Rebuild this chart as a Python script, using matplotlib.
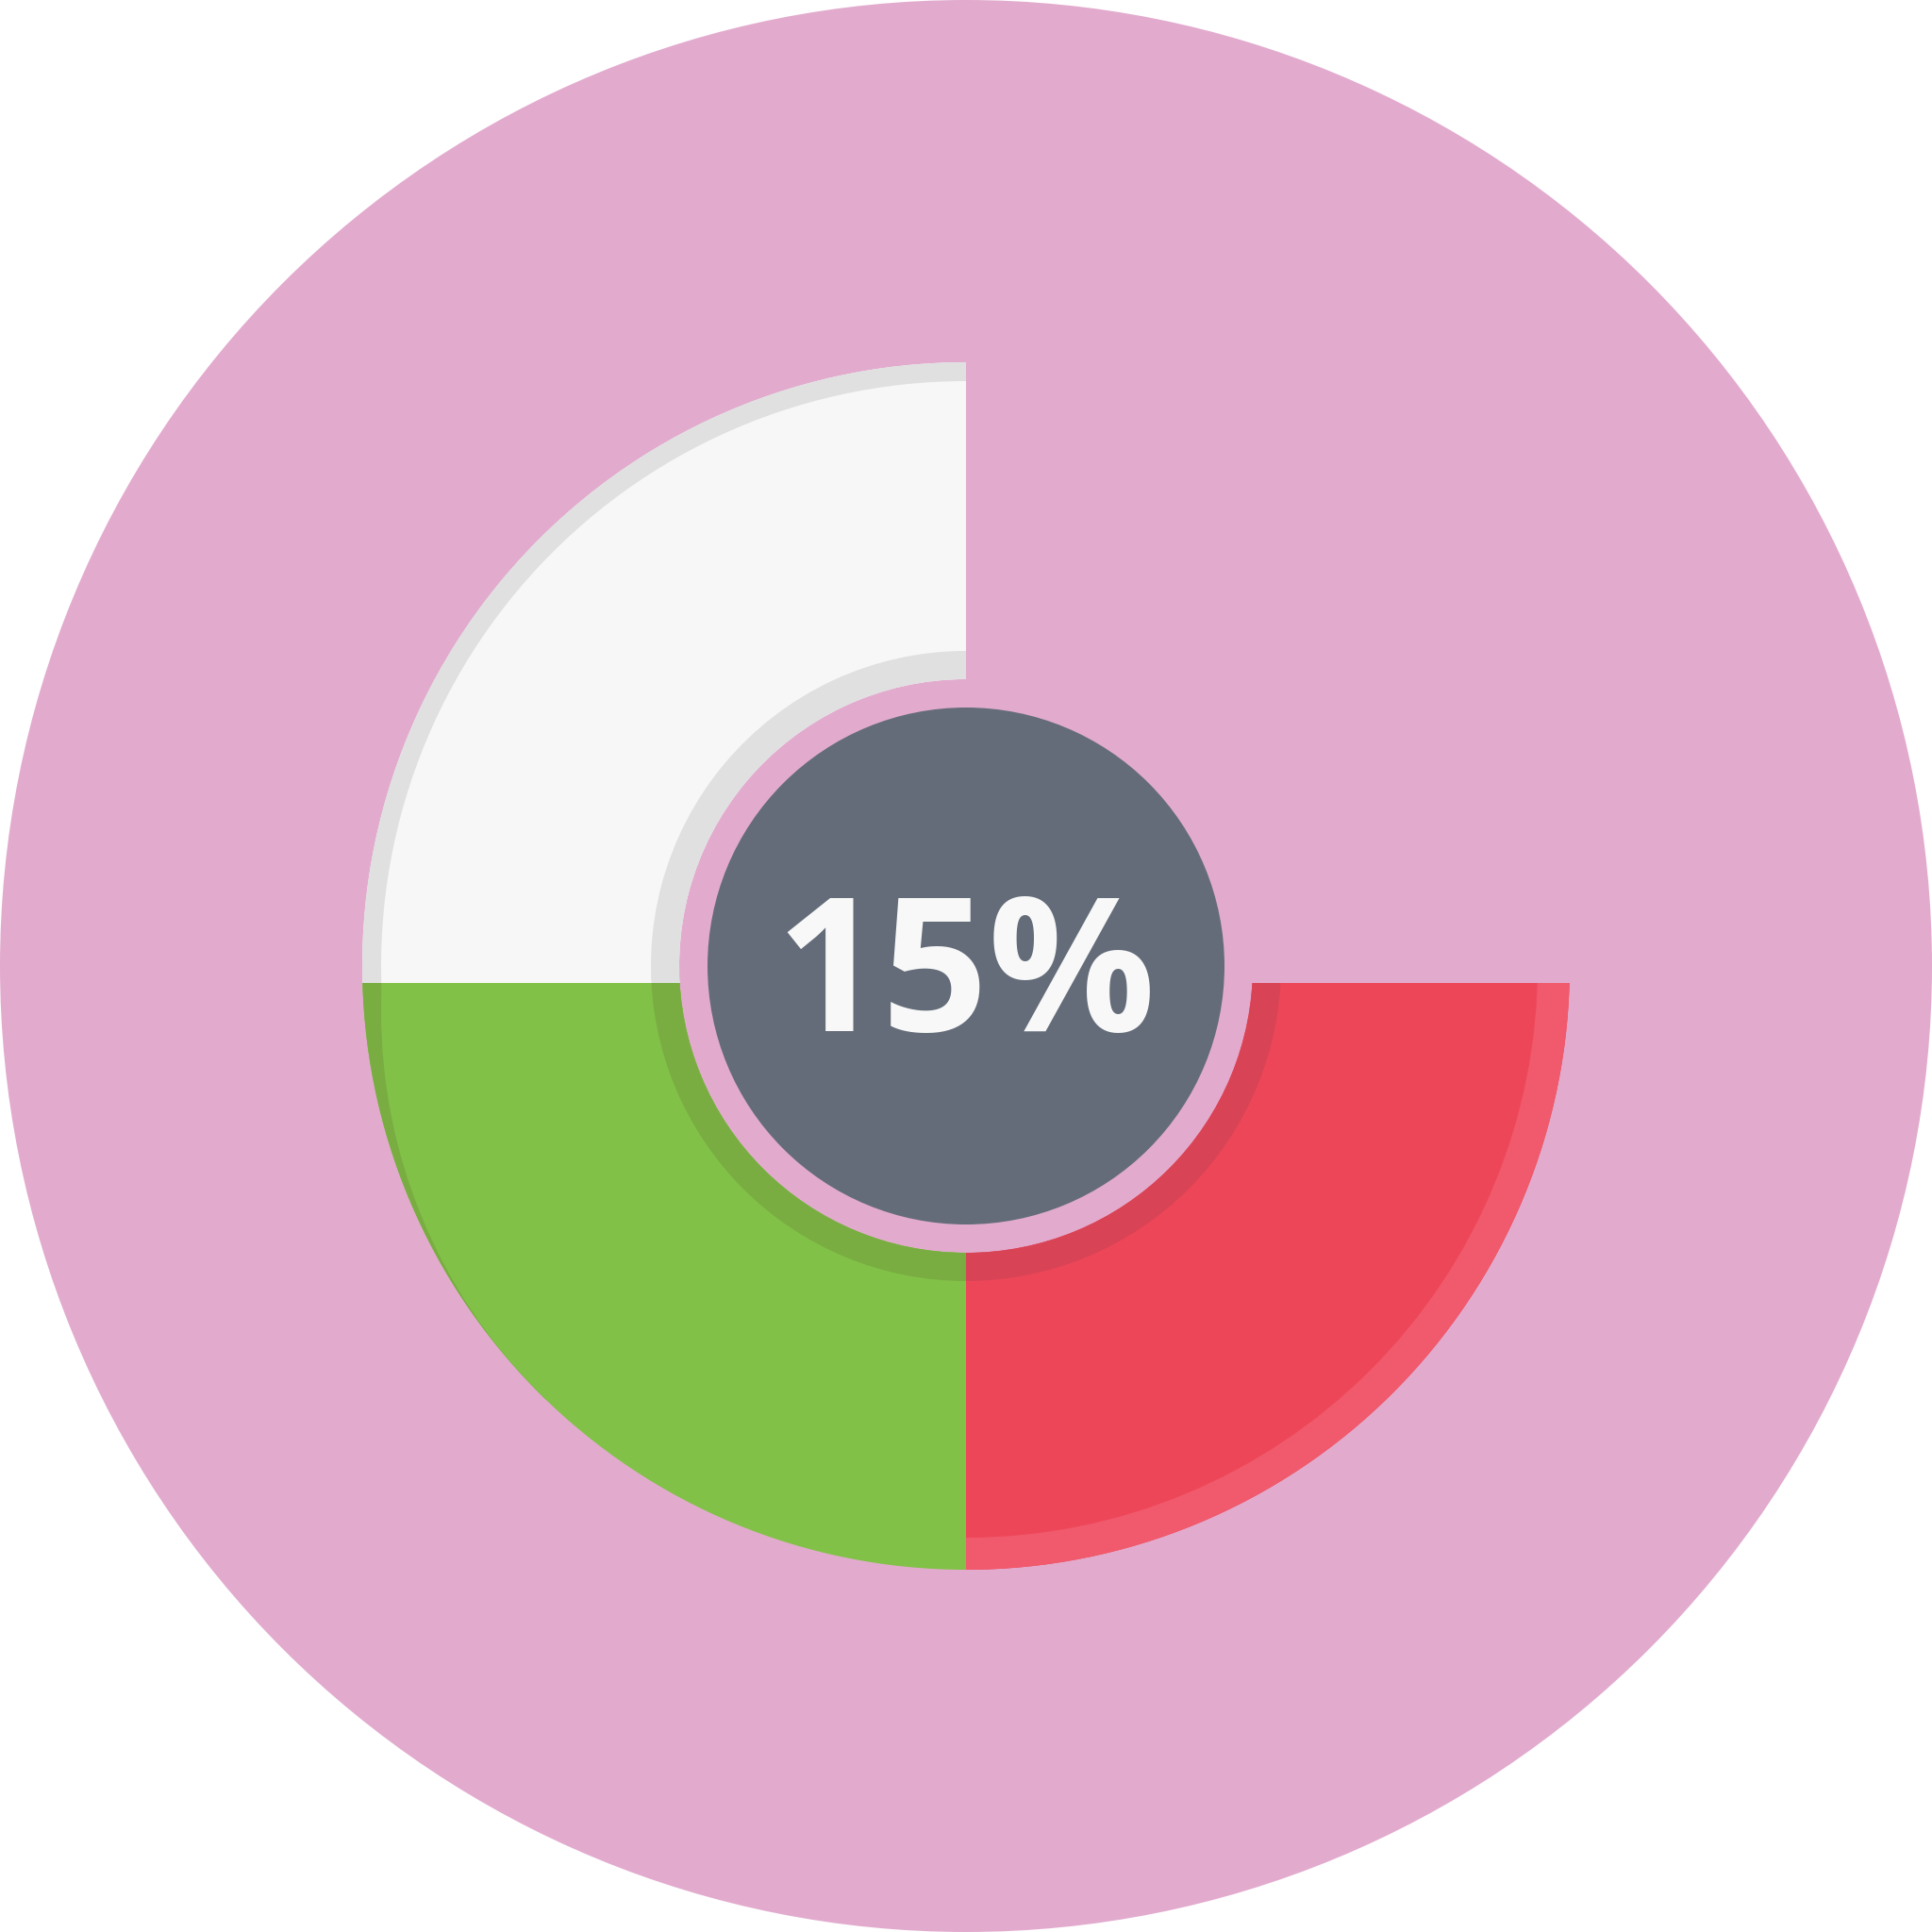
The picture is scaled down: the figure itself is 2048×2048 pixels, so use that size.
import numpy as np
import matplotlib
matplotlib.use("Agg")
import matplotlib.pyplot as plt
from matplotlib.patches import Circle, Wedge, Rectangle

# data: three quarter segments (percent of the full ring), drawn counter-clockwise from 12 o'clock
segment_names = ["white", "green", "red"]
segment_share = [25, 25, 25]
center_value = 15

# styles
PINK = "#E2ABCE"
HUB = "#646C7A"
TEXT_COLOR = "#F7F8F7"
main_colors = {"white": "#F6F7F6", "green": "#82C148", "red": "#EE4659"}
inner_colors = {"white": "#E0E0E0", "green": "#79AD42", "red": "#D84455"}
rim_colors = {"white": "#E0E0E0", "green": "#79AD42", "red": "#F05A6C"}

# geometry in pixels (figure is 2048 x 2048)
C = (1024, 1024)
R_OUT = 640
R_IN = 304
INNER_BAND = 30
HUB_R = 274
SPLIT = 18  # horizontal seam sits a little below the centre

fig = plt.figure(figsize=(20.48, 20.48), dpi=100)
fig.patch.set_facecolor("white")
ax = fig.add_axes([0, 0, 1, 1])
ax.set_xlim(0, 2048)
ax.set_ylim(0, 2048)
ax.set_aspect("equal")
ax.axis("off")

ax.add_patch(Circle(C, 1024, color=PINK, lw=0))

upper = Rectangle((0, C[1] - SPLIT), 2048, 2048, transform=ax.transData)
lower = Rectangle((0, 0), 2048, C[1] - SPLIT, transform=ax.transData)

# angles from the shares
starts = 90 + np.concatenate([[0], np.cumsum(segment_share)[:-1]]) * 3.6
ends = starts + np.array(segment_share) * 3.6


def ring(t1, t2, r, width, color, clip=None):
    w = Wedge(C, r, t1, t2, width=width, color=color, lw=0)
    ax.add_patch(w)
    if clip is not None:
        w.set_clip_path(clip)
    return w


# lower segments first, the white one overlaps their seam
for name, t1, t2 in zip(segment_names, starts, ends):
    if name == "white":
        continue
    main = ring(t1, t2, R_OUT, R_OUT - R_IN, main_colors[name], lower)
    if name == "red":
        ring(t1, t2, R_OUT, 34, rim_colors[name], lower)
    if name == "green":
        # dark crescent on the left side, tapering out at 225 deg
        ring(t1, t1 + 46, R_OUT, 20, rim_colors[name], lower)
        shift = 68.3
        cc = (C[0] - shift * np.cos(np.pi / 4), C[1] - shift * np.sin(np.pi / 4))
        cover = Circle(cc, R_OUT - shift, color=main_colors[name], lw=0)
        ax.add_patch(cover)
        cover.set_clip_path(main)
    ring(t1, t2, R_IN + INNER_BAND, INNER_BAND, inner_colors[name], lower)

for name, t1, t2 in zip(segment_names, starts, ends):
    if name != "white":
        continue
    ring(t1, t2 + 10, R_OUT, R_OUT - R_IN, main_colors[name], upper)
    ring(t1, t2 + 10, R_OUT, 20, rim_colors[name], upper)
    ring(t1, t2 + 10, R_IN + INNER_BAND, INNER_BAND, inner_colors[name], upper)

ax.add_patch(Circle(C, HUB_R, color=HUB, lw=0))
ax.text(C[0], 955, f"{center_value}%", ha="center", va="baseline",
        fontsize=142, fontweight="bold", family=["Open Sans", "DejaVu Sans"],
        color=TEXT_COLOR)

fig.savefig("out.png", dpi=100, facecolor="white")
